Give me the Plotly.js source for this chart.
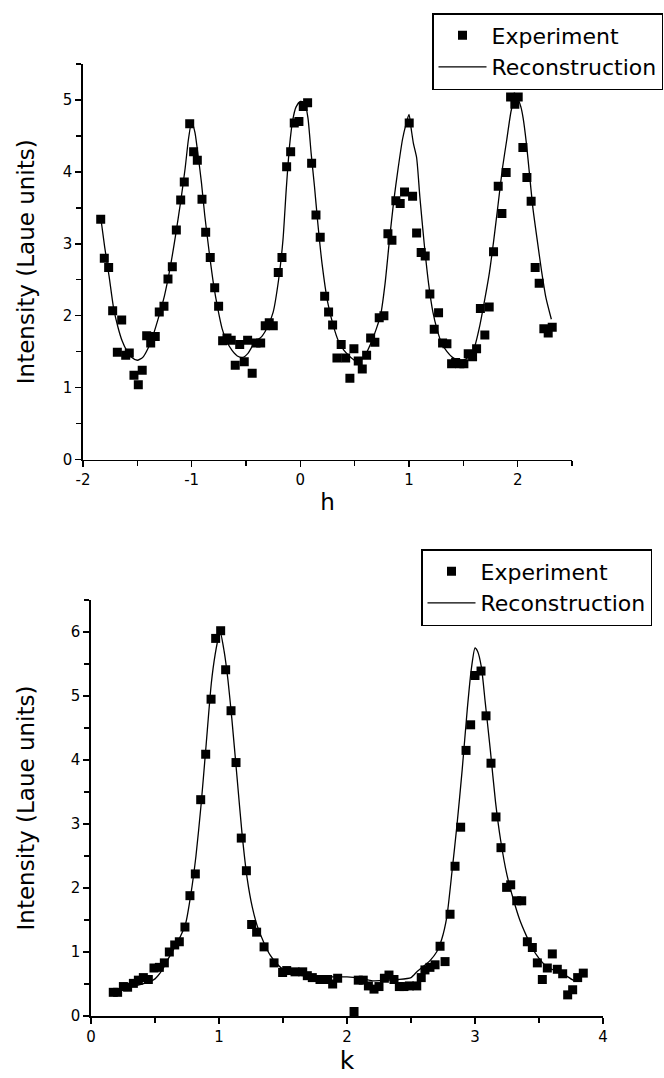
<!DOCTYPE html>
<html><head><meta charset="utf-8">
<script src="https://cdn.plot.ly/plotly-3.0.1.min.js"></script>
<style>html,body{margin:0;padding:0;background:#fff}#chart{width:664px;height:1078px}</style>
</head><body><div id="chart"></div>
<script>
// ---- Top panel: scan along h ----
const hExp = [-1.837,-1.804,-1.764,-1.727,-1.684,-1.644,-1.607,-1.574,-1.531,-1.491,
  -1.455,-1.414,-1.377,-1.335,-1.298,-1.255,-1.218,-1.178,-1.141,-1.101,
  -1.068,-1.018,-0.982,-0.948,-0.905,-0.871,-0.829,-0.788,-0.752,-0.715,
  -0.675,-0.636,-0.599,-0.558,-0.516,-0.485,-0.443,-0.408,-0.365,-0.323,
  -0.286,-0.249,-0.203,-0.169,-0.126,-0.089,-0.056,-0.013,0.027,0.067,
  0.104,0.144,0.183,0.224,0.260,0.297,0.337,0.376,0.417,0.456,
  0.493,0.533,0.570,0.610,0.647,0.686,0.726,0.769,0.806,0.843,
  0.879,0.919,0.959,1.002,1.033,1.070,1.112,1.149,1.192,1.232,
  1.272,1.309,1.349,1.392,1.429,1.468,1.505,1.545,1.585,1.622,
  1.657,1.698,1.738,1.778,1.821,1.855,1.894,1.935,1.974,2.005,
  2.048,2.085,2.124,2.161,2.198,2.241,2.281,2.318];
const hExpI = [3.34,2.80,2.67,2.07,1.49,1.94,1.45,1.48,1.17,1.04,
  1.24,1.72,1.62,1.71,2.05,2.13,2.51,2.68,3.19,3.61,
  3.86,4.67,4.28,4.16,3.62,3.16,2.81,2.39,2.13,1.65,
  1.69,1.66,1.31,1.60,1.36,1.66,1.20,1.62,1.62,1.86,
  1.90,1.86,2.60,2.81,4.07,4.28,4.68,4.70,4.91,4.96,
  4.12,3.40,3.09,2.27,2.05,1.87,1.41,1.60,1.41,1.13,
  1.54,1.37,1.26,1.45,1.69,1.63,1.97,2.00,3.14,3.05,
  3.60,3.56,3.72,4.68,3.66,3.15,2.88,2.83,2.30,1.81,
  2.04,1.62,1.61,1.33,1.35,1.33,1.33,1.47,1.43,1.54,
  2.10,1.73,2.12,2.89,3.80,3.42,3.99,5.04,4.94,5.04,
  4.34,3.92,3.59,2.67,2.45,1.82,1.76,1.84];
const hRec = [-1.84,-1.80,-1.76,-1.72,-1.68,-1.64,-1.60,-1.55,-1.50,-1.45,-1.40,-1.35,-1.30,-1.25,-1.20,-1.15,-1.10,-1.06,-1.03,-1.00,
  -0.97,-0.94,-0.91,-0.88,-0.84,-0.80,-0.76,-0.72,-0.68,-0.63,-0.58,-0.53,-0.48,-0.44,-0.40,-0.35,-0.30,-0.25,-0.20,-0.16,
  -0.13,-0.10,-0.07,-0.04,0.00,0.04,0.07,0.10,0.13,0.16,0.20,0.25,0.30,0.35,0.40,0.45,0.50,0.55,0.60,0.65,
  0.70,0.74,0.78,0.82,0.86,0.90,0.94,0.97,1.00,1.02,1.04,1.07,1.10,1.14,1.18,1.22,1.26,1.30,1.35,1.40,
  1.45,1.50,1.55,1.60,1.65,1.70,1.74,1.78,1.82,1.86,1.90,1.94,1.97,2.00,2.03,2.05,2.08,2.11,2.14,2.18,
  2.22,2.26,2.31];
const hRecI = [3.40,2.95,2.55,2.12,1.85,1.65,1.52,1.42,1.38,1.42,1.55,1.75,2.00,2.28,2.65,3.10,3.60,4.05,4.45,4.70,
  4.55,4.22,3.85,3.40,2.90,2.45,2.10,1.82,1.65,1.52,1.44,1.42,1.48,1.58,1.65,1.72,1.85,2.05,2.50,3.05,
  3.75,4.35,4.72,4.90,4.98,4.96,4.75,4.25,3.80,3.30,2.72,2.20,1.88,1.65,1.52,1.44,1.38,1.38,1.46,1.62,
  1.82,2.02,2.45,3.05,3.60,4.05,4.45,4.65,4.80,4.60,4.40,4.20,3.65,3.00,2.45,2.05,1.80,1.62,1.50,1.42,
  1.38,1.38,1.43,1.55,1.85,2.25,2.60,3.05,3.55,4.05,4.45,4.85,5.00,5.02,4.90,4.75,4.40,3.95,3.50,3.05,
  2.62,2.25,1.95];
const hTickVals = [-2, -1, 0, 1, 2];
const hTickText = ['-2', '-1', '0', '1', '2'];

// ---- Bottom panel: scan along k ----
const kExp = [0.174,0.208,0.253,0.286,0.331,0.370,0.409,0.448,0.492,0.534,
  0.573,0.612,0.654,0.690,0.734,0.773,0.815,0.857,0.896,0.938,
  0.974,1.013,1.052,1.094,1.133,1.174,1.214,1.255,1.294,1.352,
  1.430,1.497,1.529,1.594,1.654,1.690,1.729,1.789,1.849,1.888,
  1.927,2.055,2.088,2.127,2.167,2.211,2.250,2.292,2.328,2.367,
  2.409,2.445,2.487,2.545,2.580,2.609,2.648,2.688,2.727,2.766,
  2.805,2.844,2.888,2.930,2.966,3.000,3.047,3.086,3.125,3.164,
  3.203,3.247,3.279,3.326,3.365,3.409,3.448,3.487,3.526,3.565,
  3.604,3.643,3.685,3.724,3.763,3.802,3.846];
const kExpI = [0.37,0.37,0.46,0.45,0.51,0.56,0.60,0.57,0.75,0.76,
  0.83,1.00,1.11,1.16,1.39,1.88,2.22,3.38,4.09,4.95,
  5.90,6.02,5.41,4.77,3.96,2.78,2.27,1.43,1.31,1.08,
  0.83,0.68,0.71,0.69,0.69,0.63,0.60,0.57,0.57,0.50,
  0.59,0.07,0.56,0.56,0.47,0.42,0.46,0.59,0.64,0.57,
  0.46,0.46,0.47,0.47,0.60,0.72,0.76,0.80,1.09,0.85,
  1.59,2.34,2.95,4.15,4.55,5.32,5.39,4.69,3.95,3.11,
  2.63,2.01,2.05,1.80,1.80,1.16,1.07,0.83,0.57,0.75,
  0.97,0.73,0.66,0.33,0.41,0.60,0.67];
const kRec = [0.18,0.30,0.40,0.45,0.50,0.55,0.60,0.65,0.70,0.74,0.78,0.82,0.86,0.90,0.94,0.97,1.00,1.01,1.04,1.07,
  1.10,1.14,1.18,1.22,1.26,1.30,1.35,1.40,1.45,1.50,1.60,1.70,1.80,1.90,2.00,2.10,2.20,2.30,2.40,2.50,
  2.55,2.60,2.65,2.70,2.74,2.78,2.82,2.86,2.90,2.94,2.97,3.00,3.02,3.05,3.08,3.12,3.16,3.20,3.25,3.30,
  3.35,3.40,3.45,3.50,3.55,3.60,3.66,3.72,3.77,3.82];
const kRecI = [0.39,0.45,0.50,0.53,0.58,0.70,0.88,1.06,1.25,1.45,1.90,2.50,3.30,4.25,5.20,5.65,5.95,6.00,5.70,5.25,
  4.65,3.75,2.85,2.15,1.70,1.40,1.15,0.95,0.82,0.73,0.65,0.62,0.61,0.61,0.61,0.59,0.55,0.56,0.57,0.60,
  0.70,0.78,0.87,1.00,1.20,1.55,2.25,3.00,3.85,4.80,5.40,5.75,5.70,5.45,4.90,4.15,3.35,2.75,2.20,1.82,
  1.50,1.26,1.05,0.90,0.79,0.73,0.68,0.62,0.56,0.61];

const yTitle = 'Intensity (Laue units)';
const FONT = 'DejaVu Sans, Liberation Sans, Arial, sans-serif';

const W = 664, H = 1078;
const px = v => v / W;
const py = v => 1 - v / H;

const mk = {symbol:'square', size:9, color:'#000'};
const ln = {color:'#000', width:1.3};

const traces = [
  {x:hExp, y:hExpI, type:'scatter', mode:'markers', name:'Experiment', marker:mk, xaxis:'x', yaxis:'y', legend:'legend'},
  {x:hRec, y:hRecI, type:'scatter', mode:'lines', name:'Reconstruction', line:Object.assign({shape:'spline', smoothing:0.6}, ln), xaxis:'x', yaxis:'y', legend:'legend'},
  {x:kExp, y:kExpI, type:'scatter', mode:'markers', name:'Experiment', marker:mk, xaxis:'x2', yaxis:'y2', legend:'legend2'},
  {x:kRec, y:kRecI, type:'scatter', mode:'lines', name:'Reconstruction', line:Object.assign({shape:'spline', smoothing:0.6}, ln), xaxis:'x2', yaxis:'y2', legend:'legend2'}
];

const axBase = {
  showline:true, linecolor:'#000', linewidth:1.6, mirror:false,
  ticks:'outside', ticklen:6, tickwidth:1.5, tickcolor:'#000',
  showgrid:false, zeroline:false, dtick:1,
  tickfont:{family:FONT, size:15, color:'#000'},
  minor:{dtick:0.5, ticks:'outside', ticklen:5, tickwidth:1.5, tickcolor:'#000', showgrid:false},
  fixedrange:true
};
const ax = o => Object.assign({}, axBase, o);

const legBase = {
  xanchor:'left', yanchor:'top', bgcolor:'#fff', bordercolor:'#000', borderwidth:1.5,
  font:{family:FONT, size:22, color:'#000'}, itemwidth:48, traceorder:'normal'
};

const layout = {
  width:W, height:H,
  margin:{l:0, r:0, t:0, b:0},
  paper_bgcolor:'#fff', plot_bgcolor:'#fff',
  showlegend:true,
  xaxis: ax({domain:[px(83), px(572)], range:[-2, 2.5], anchor:'y',
    tickmode:'array', tickvals:hTickVals, ticktext:hTickText,
    title:{text:'h', font:{family:FONT, size:23, color:'#000'}, standoff:6}}),
  yaxis: ax({domain:[py(459.5), py(64)], range:[0, 5.5], anchor:'x',
    title:{text:yTitle, font:{family:FONT, size:23, color:'#000'}, standoff:22}}),
  xaxis2: ax({domain:[px(91), px(603)], range:[0, 4], anchor:'y2',
    title:{text:'k', font:{family:FONT, size:25, color:'#000'}, standoff:6}}),
  yaxis2: ax({domain:[py(1016), py(600)], range:[0, 6.5], anchor:'x2',
    title:{text:yTitle, font:{family:FONT, size:23, color:'#000'}, standoff:30}}),
  legend: Object.assign({x:px(432), y:py(13)}, legBase),
  legend2: Object.assign({x:px(421), y:py(549)}, legBase)
};

Plotly.newPlot('chart', traces, layout, {displayModeBar:false, staticPlot:true});
</script>
</body></html>
